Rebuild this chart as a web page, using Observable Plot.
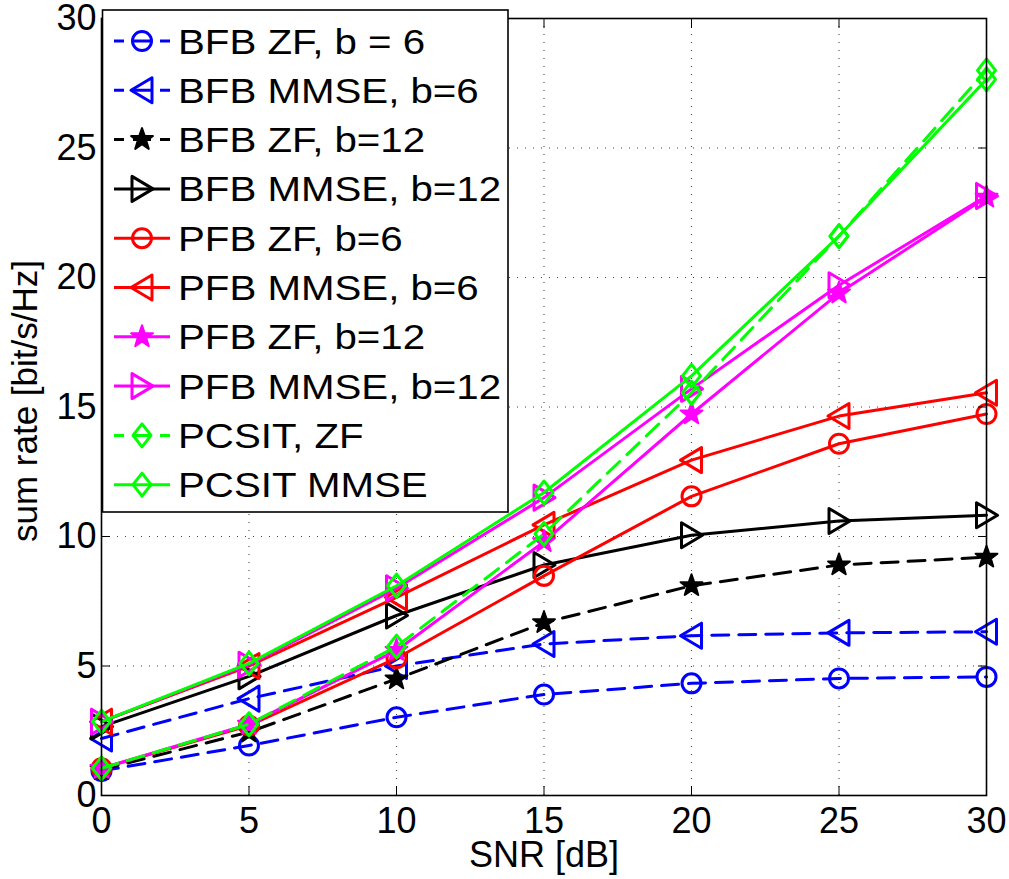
<!DOCTYPE html>
<html>
<head>
<meta charset="utf-8">
<script src="https://cdn.jsdelivr.net/npm/d3@7"></script>
<script src="https://cdn.jsdelivr.net/npm/@observablehq/plot@0.6"></script>
<style>
  html, body { margin: 0; padding: 0; background: #fff; }
  #wrap { position: relative; width: 1009px; height: 879px; }
  #wrap svg { position: absolute; left: 0; top: 0; }
</style>
</head>
<body>
<div id="wrap"></div>
<script>
// ---------- data ----------
const snr = [0, 5, 10, 15, 20, 25, 30];
const xTicks = [0, 5, 10, 15, 20, 25, 30];
const yTicks = [0, 5, 10, 15, 20, 25, 30];

const bfbZF6    = [0.95, 1.93, 3.02, 3.90, 4.33, 4.52, 4.58];
const bfbMMSE6  = [2.20, 3.74, 5.00, 5.85, 6.17, 6.28, 6.32];
const bfbZF12   = [1.00, 2.45, 4.50, 6.67, 8.10, 8.90, 9.20];
const bfbMMSE12 = [2.66, 4.60, 6.95, 8.90, 10.05, 10.60, 10.82];
const pfbZF6    = [1.05, 2.70, 5.30, 8.48, 11.55, 13.58, 14.73];
const pfbMMSE6  = [2.85, 5.00, 7.65, 10.45, 12.95, 14.65, 15.55];
const pfbZF12   = [1.05, 2.75, 5.60, 9.80, 14.73, 19.40, 23.10];
const pfbMMSE12 = [2.85, 5.05, 8.00, 11.50, 15.70, 19.70, 23.15];
const pcsitZF   = [1.05, 2.75, 5.75, 10.10, 15.55, 21.60, 28.00];
const pcsitMMSE = [2.85, 5.10, 8.10, 11.70, 16.20, 21.60, 27.65];

const seriesNames = ["BFB ZF, b = 6", "BFB MMSE, b=6", "BFB ZF, b=12", "BFB MMSE, b=12",
  "PFB ZF, b=6", "PFB MMSE, b=6", "PFB ZF, b=12", "PFB MMSE, b=12", "PCSIT, ZF", "PCSIT MMSE"];
const seriesValues = [bfbZF6, bfbMMSE6, bfbZF12, bfbMMSE12, pfbZF6, pfbMMSE6, pfbZF12, pfbMMSE12, pcsitZF, pcsitMMSE];
const seriesColors = ["#0000ff", "#0000ff", "#000000", "#000000", "#ff0000", "#ff0000",
  "#ff00ff", "#ff00ff", "#00ff00", "#00ff00"];
const seriesDashed = [true, true, true, false, false, false, false, false, true, false];
const seriesMarkers = ["circle", "triLeft", "star", "triRight", "circle", "triLeft", "star", "triRight", "diamond", "diamond"];

// ---------- marker shapes ----------
const k0 = s => Math.sqrt(s / Math.PI) / 10;
const symbols = {
  circle: {draw(c, s) { const r = 9.5 * k0(s); c.moveTo(r, 0); c.arc(0, 0, r, 0, 2 * Math.PI); }},
  triLeft: {draw(c, s) { const k = k0(s); c.moveTo(-11 * k, 0); c.lineTo(10 * k, -12.5 * k); c.lineTo(10 * k, 12.5 * k); c.closePath(); }},
  triRight: {draw(c, s) { const k = k0(s); c.moveTo(11 * k, 0); c.lineTo(-10 * k, -12.5 * k); c.lineTo(-10 * k, 12.5 * k); c.closePath(); }},
  diamond: {draw(c, s) { const k = k0(s); c.moveTo(0, -11.5 * k); c.lineTo(9 * k, 0); c.lineTo(0, 11.5 * k); c.lineTo(-9 * k, 0); c.closePath(); }},
  star: {draw(c, s) {
    const k = k0(s), R = 11.5 * k, r = R * 0.40;
    for (let i = 0; i < 10; i++) {
      const a = -Math.PI / 2 + i * Math.PI / 5, rr = i % 2 ? r : R;
      const px = rr * Math.cos(a), py = rr * Math.sin(a);
      if (i === 0) c.moveTo(px, py); else c.lineTo(px, py);
    }
    c.closePath();
  }}
};
const filledMarker = m => m === "star";
const plotDash = "17,10";
const FONT = "'Liberation Sans', Arial, Helvetica, sans-serif";

// ---------- build the plot ----------
const seriesMarks = seriesNames.flatMap((name, i) => {
  const rows = snr.map((x, j) => ({x, y: seriesValues[i][j]}));
  const col = seriesColors[i];
  const filled = filledMarker(seriesMarkers[i]);
  return [
    Plot.line(rows, {x: "x", y: "y", stroke: col, strokeWidth: 3, strokeDasharray: seriesDashed[i] ? plotDash : null, strokeLinejoin: "round"}),
    Plot.dot(rows, {x: "x", y: "y", r: 10, symbol: symbols[seriesMarkers[i]],
      stroke: col, strokeWidth: filled ? 2 : 3, strokeLinejoin: "round", fill: filled ? col : "none"})
  ];
});

const chart = Plot.plot({
  width: 1009,
  height: 879,
  marginLeft: 101,
  marginRight: 23,
  marginTop: 18,
  marginBottom: 84,
  style: {fontFamily: FONT, background: "#fff", color: "#000"},
  x: {domain: [0, 30], ticks: xTicks},
  y: {domain: [0, 30], ticks: yTicks},
  marks: [
    Plot.ruleX(xTicks, {stroke: "#000", strokeOpacity: 0.75, strokeWidth: 1.1, strokeDasharray: "1,7"}),
    Plot.ruleY(yTicks, {stroke: "#000", strokeOpacity: 0.75, strokeWidth: 1.1, strokeDasharray: "1,7"}),
    ...seriesMarks,
    Plot.frame({stroke: "#000", strokeWidth: 1.6}),
    Plot.axisX(xTicks, {anchor: "bottom", tickSize: -9, tickFormat: () => "", label: null}),
    Plot.axisX(xTicks, {anchor: "top", tickSize: -9, tickFormat: () => "", label: null}),
    Plot.axisY(yTicks, {anchor: "left", tickSize: -9, tickFormat: () => "", label: null}),
    Plot.axisY(yTicks, {anchor: "right", tickSize: -9, tickFormat: () => "", label: null}),
    Plot.axisX(xTicks, {anchor: "bottom", tickSize: 0, tickPadding: 12, fontSize: 36, label: null}),
    Plot.axisY(yTicks, {anchor: "left", tickSize: 0, tickPadding: 5, fontSize: 36, label: null}),
    Plot.text(["SNR [dB]"], {frameAnchor: "bottom", lineAnchor: "middle", textAnchor: "middle", dy: 60, fontSize: 36, fill: "#000"}),
    Plot.text(["sum rate [bit/s/Hz]"], {frameAnchor: "left", lineAnchor: "middle", textAnchor: "middle", dx: -76, dy: -6, rotate: -90, fontSize: 35, fill: "#000"})
  ]
});

const wrap = document.getElementById("wrap");
wrap.appendChild(chart);

// ---------- legend (opaque box inside the axes, top-left) ----------
const leg = d3.select(wrap).append("svg")
  .attr("width", 1009).attr("height", 879)
  .style("font-family", FONT);
leg.append("rect")
  .attr("x", 102.5).attr("y", 10).attr("width", 405.5).attr("height", 502)
  .attr("fill", "#fff").attr("stroke", "#000").attr("stroke-width", 1.6);
seriesNames.forEach((name, i) => {
  const cy = 41 + i * 49.3;
  const col = seriesColors[i];
  const filled = filledMarker(seriesMarkers[i]);
  const g = leg.append("g");
  g.append("line")
    .attr("x1", 114).attr("x2", 170).attr("y1", cy).attr("y2", cy)
    .attr("stroke", col).attr("stroke-width", 3)
    .attr("stroke-dasharray", seriesDashed[i] ? "10,9,18,9,10" : null);
  g.append("path")
    .attr("d", d3.symbol(symbols[seriesMarkers[i]], 100 * Math.PI)())
    .attr("transform", `translate(142,${cy})`)
    .attr("fill", filled ? col : "none")
    .attr("stroke", col).attr("stroke-width", filled ? 2 : 3)
    .attr("stroke-linejoin", "round");
  g.append("text")
    .attr("transform", `translate(178,${cy + 12.5}) scale(1.15,1)`)
    .attr("font-size", 35)
    .attr("fill", "#000")
    .text(name);
});
</script>
</body>
</html>
